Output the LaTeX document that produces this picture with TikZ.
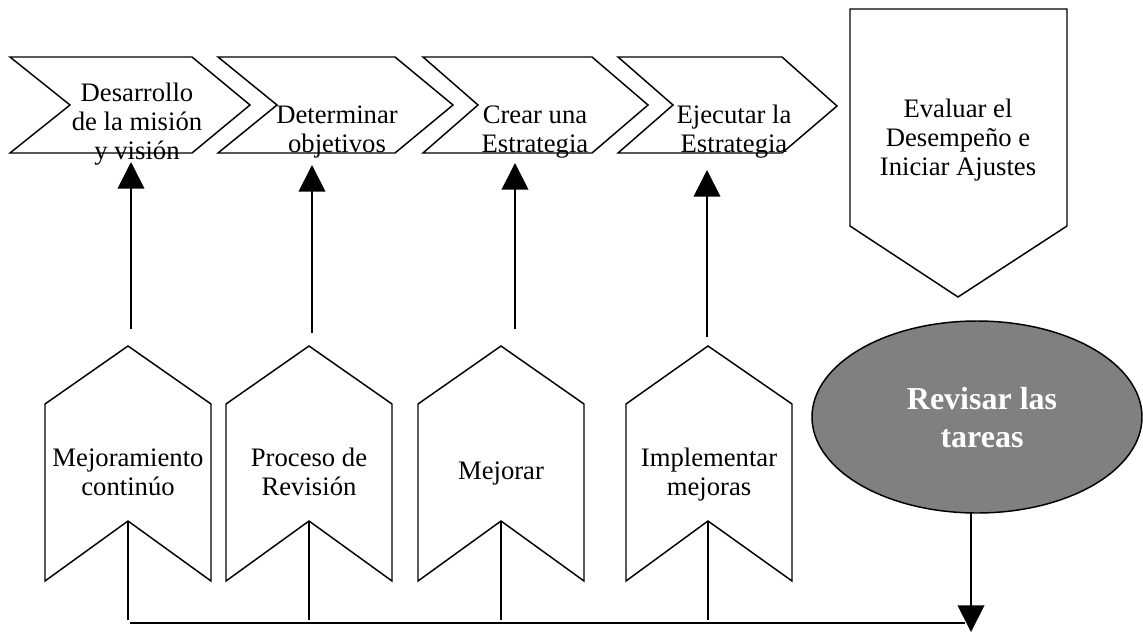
\documentclass[tikz,border=0pt]{standalone}
\usepackage{fontspec}
\setmainfont{Liberation Serif}
\usetikzlibrary{arrows.meta,shapes.geometric}

\tikzset{
  shapeline/.style={draw=black, line width=1.1pt, line join=miter, fill=white},
  lbl/.style={font=\fontsize{20}{22}\selectfont, align=center, inner sep=0pt},
  conn/.style={draw=black, line width=1.4pt},
  arr/.style={conn, -{Triangle[length=20pt,width=20pt]}},
}

\begin{document}
\begin{tikzpicture}[x=0.75pt, y=-0.75pt]
  \useasboundingbox (0,0) rectangle (1143,632);

  % process chevrons along the top
  \draw[shapeline] (10,57) -- (192,57) -- (250,105) -- (192,153) -- (10,153) -- (70,105) -- cycle;
  \draw[shapeline] (218,57) -- (395,57) -- (453,105) -- (395,153) -- (218,153) -- (277,105) -- cycle;
  \draw[shapeline] (423,57) -- (592,57) -- (648,105) -- (592,153) -- (423,153) -- (478,105) -- cycle;
  \draw[shapeline] (618,57) -- (782,57) -- (837,106) -- (782,153) -- (618,153) -- (673,105) -- cycle;

  % final step, pointing down
  \draw[shapeline] (850,9) -- (1067,9) -- (1067,226) -- (958,297) -- (850,226) -- cycle;

  % improvement tags at the bottom, pointing up
  \draw[shapeline] (128,346) -- (211,404) -- (211,581) -- (128,521) -- (45,581) -- (45,404) -- cycle;
  \draw[shapeline] (309,346) -- (392,404) -- (392,581) -- (309,521) -- (226,581) -- (226,404) -- cycle;
  \draw[shapeline] (501,346) -- (584,404) -- (584,581) -- (501,521) -- (418,581) -- (418,404) -- cycle;
  \draw[shapeline] (708,346) -- (792,404) -- (792,581) -- (708,521) -- (626,581) -- (626,404) -- cycle;

  % labels of the chevrons
  \node[lbl] (mision) at (137,124.5) {Desarrollo\strut\\de la misión\strut\\y visión\strut};
  \node[lbl] (obj)    at (337,131.8) {Determinar\strut\\objetivos\strut};
  \node[lbl] (crear)  at (535,131.8) {Crear una\strut\\Estrategia\strut};
  \node[lbl] (ejec)   at (734,131.8) {Ejecutar la\strut\\Estrategia\strut};
  \node[lbl] (eval)   at (958,140.5) {Evaluar el\strut\\Desempeño e\strut\\Iniciar Ajustes\strut};

  % labels of the tags
  \node[lbl] (mejcont) at (128,474.8) {Mejoramiento\strut\\continúo\strut};
  \node[lbl] (proc)    at (309,474.8) {Proceso de\strut\\Revisión\strut};
  \node[lbl] (mejorar) at (501,474)   {Mejorar\strut};
  \node[lbl] (impl)    at (709,474.8) {Implementar\strut\\mejoras\strut};

  % review ellipse
  \node[ellipse, draw=black, line width=1.1pt, fill=black!50, inner sep=0pt,
        minimum width=247.5pt, minimum height=144pt] (rev) at (977,417) {};
  \node[font=\fontsize{24}{28}\selectfont\bfseries, text=white, align=center, inner sep=0pt]
        (revtxt) at (982,421) {Revisar las\strut\\tareas\strut};

  % connector end points
  \coordinate (u1s) at (131,329); \coordinate (u1e) at (131,162);
  \coordinate (u2s) at (312,333); \coordinate (u2e) at (312,165);
  \coordinate (u3s) at (515,329); \coordinate (u3e) at (515,163);
  \coordinate (u4s) at (707,337); \coordinate (u4e) at (707,170);

  \coordinate (n1) at (128,521); \coordinate (d1) at (128,620);
  \coordinate (n2) at (309,521); \coordinate (d2) at (309,620);
  \coordinate (n3) at (501,521); \coordinate (d3) at (501,620);
  \coordinate (n4) at (708,521); \coordinate (d4) at (708,620);

  \coordinate (hs) at (130,623); \coordinate (he) at (965,623);
  \coordinate (dtop) at (971,513); \coordinate (dtip) at (971,632);

  % upward arrows into the chevrons
  \draw[arr] (u1s) -- (u1e);
  \draw[arr] (u2s) -- (u2e);
  \draw[arr] (u3s) -- (u3e);
  \draw[arr] (u4s) -- (u4e);

  % feedback lines along the bottom
  \draw[conn] (n1) -- (d1);
  \draw[conn] (n2) -- (d2);
  \draw[conn] (n3) -- (d3);
  \draw[conn] (n4) -- (d4);
  \draw[conn] (hs) -- (he);

  % arrow from the review down to the feedback line
  \draw[arr] (dtop) -- (dtip);
\end{tikzpicture}
\end{document}
